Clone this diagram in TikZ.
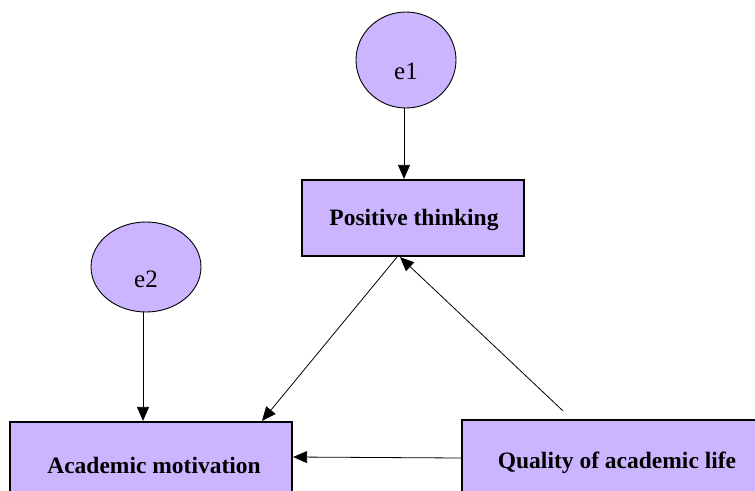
\documentclass[tikz,border=0pt]{standalone}
\usepackage{fontspec}
\setmainfont{Liberation Serif}
\usetikzlibrary{arrows.meta,calc,shapes.geometric}
\definecolor{boxfill}{HTML}{CCB5FF}
\tikzset{
  errnode/.style={ellipse, draw=black, line width=0.9pt, fill=boxfill, inner sep=0pt},
  varbox/.style={draw=black, line width=2.2pt, fill=boxfill, inner sep=0pt},
  arr/.style={-{Triangle[length=14pt,width=12pt]}, line width=0.8pt},
  lbl/.style={font=\fontsize{23.5}{27}\selectfont\bfseries},
  elbl/.style={font=\fontsize{25}{29}\selectfont}
}
\begin{document}
\begin{tikzpicture}[x=1pt,y=-1pt]
\useasboundingbox (0,0) rectangle (755,490);
\clip (0,0) rectangle (755,490);
\fill[white] (0,0) rectangle (755,490);
% ellipses
\node (e1) [errnode, minimum width=100pt, minimum height=96pt] at (406,60) {};
\node (e1t) [elbl] at (406,71) {e1};
\node (e2) [errnode, minimum width=110pt, minimum height=90pt] at (146,267) {};
\node (e2t) [elbl] at (146,279) {e2};
% boxes
\node (pt) [varbox, minimum width=222pt, minimum height=76pt] at (413,218) {};
\node (ptt) [lbl] at (414,220) {Positive thinking};
\node (am) [varbox, minimum width=282pt, minimum height=80pt] at (151,462) {};
\node (amt) [lbl] at (154,465) {Academic motivation};
\node (ql) [varbox, minimum width=300pt, minimum height=84pt] at (612,462) {};
\node (qlt) [lbl] at (617,463) {Quality of academic life};
% connectors
\draw[arr] (e1.south -| 404,0) -- (pt.north -| 404,0);
\draw[arr] (e2.south -| 143,0) -- (am.north -| 143,0);
\draw[arr] (pt.south -| 397,0) -- (am.north -| 262,0);
\draw[arr] ($(ql.north)+(-49,-8)$) -- (pt.south -| 400,0);
\draw[arr] (ql.west |- 0,458) -- (am.east |- 0,457);
\end{tikzpicture}
\end{document}
